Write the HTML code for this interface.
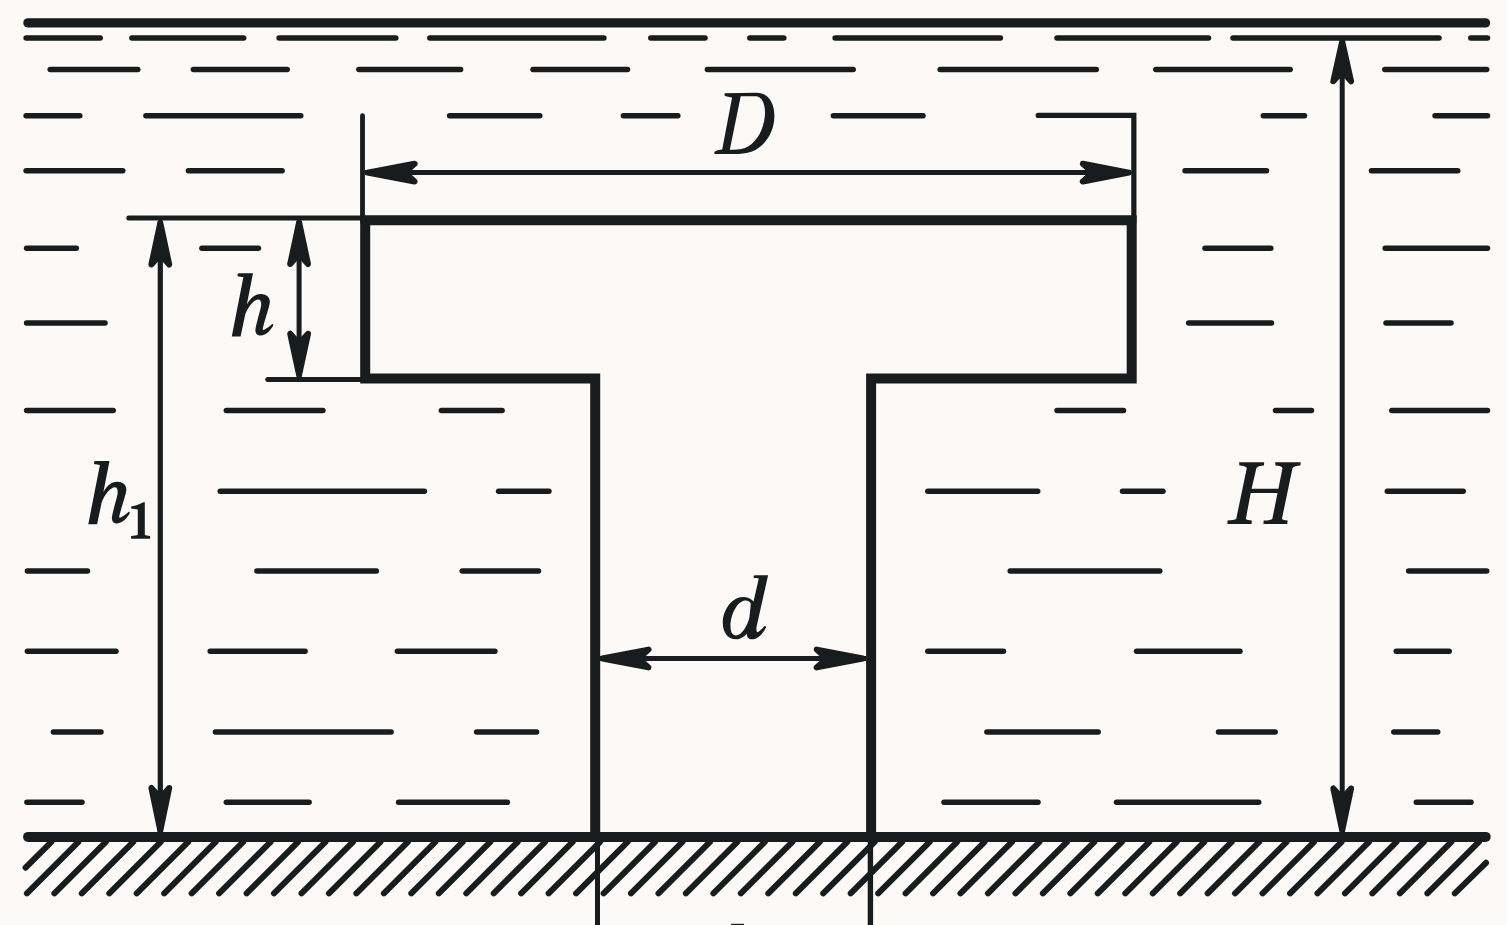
<!DOCTYPE html>
<html><head><meta charset="utf-8"><style>
html,body{margin:0;padding:0;background:#fdf9f7;}
body{width:1507px;height:925px;overflow:hidden;}
svg{display:block;}
text{font-family:"Liberation Serif",serif;fill:#171c1f;}
</style></head><body>
<svg width="1507" height="925" viewBox="0 0 1507 925">
<rect x="0" y="0" width="1507" height="925" fill="#fdf9f7"/>
<g stroke="#171c1f" fill="#171c1f">
<line x1="26.1" y1="38.1" x2="100.2" y2="38.1" stroke-width="5.5" stroke-linecap="round"/>
<line x1="131.9" y1="38.1" x2="243.7" y2="38.1" stroke-width="5.5" stroke-linecap="round"/>
<line x1="279.1" y1="38.1" x2="395.8" y2="38.1" stroke-width="5.5" stroke-linecap="round"/>
<line x1="429.8" y1="38.1" x2="603.9" y2="38.1" stroke-width="5.5" stroke-linecap="round"/>
<line x1="650.8" y1="38.1" x2="705.0" y2="38.1" stroke-width="5.5" stroke-linecap="round"/>
<line x1="749.8" y1="38.1" x2="783.8" y2="38.1" stroke-width="5.5" stroke-linecap="round"/>
<line x1="835.1" y1="38.1" x2="1000.4" y2="38.1" stroke-width="5.5" stroke-linecap="round"/>
<line x1="1057.0" y1="38.1" x2="1208.5" y2="38.1" stroke-width="5.5" stroke-linecap="round"/>
<line x1="1233.0" y1="38.1" x2="1439.0" y2="38.1" stroke-width="5.5" stroke-linecap="round"/>
<line x1="1470.8" y1="38.1" x2="1487.5" y2="38.1" stroke-width="5.5" stroke-linecap="round"/>
<line x1="50.2" y1="69.5" x2="137.8" y2="69.5" stroke-width="5.5" stroke-linecap="round"/>
<line x1="193.4" y1="69.5" x2="287.2" y2="69.5" stroke-width="5.5" stroke-linecap="round"/>
<line x1="358.9" y1="69.5" x2="460.6" y2="69.5" stroke-width="5.5" stroke-linecap="round"/>
<line x1="533.0" y1="69.5" x2="627.5" y2="69.5" stroke-width="5.5" stroke-linecap="round"/>
<line x1="707.4" y1="69.5" x2="853.2" y2="69.5" stroke-width="5.5" stroke-linecap="round"/>
<line x1="940.2" y1="69.5" x2="1096.3" y2="69.5" stroke-width="5.5" stroke-linecap="round"/>
<line x1="1155.8" y1="69.5" x2="1290.2" y2="69.5" stroke-width="5.5" stroke-linecap="round"/>
<line x1="1384.8" y1="69.5" x2="1486.7" y2="69.5" stroke-width="5.5" stroke-linecap="round"/>
<line x1="26.1" y1="115.7" x2="79.8" y2="115.7" stroke-width="5.5" stroke-linecap="round"/>
<line x1="145.9" y1="115.7" x2="300.8" y2="115.7" stroke-width="5.5" stroke-linecap="round"/>
<line x1="449.6" y1="115.7" x2="539.8" y2="115.7" stroke-width="5.5" stroke-linecap="round"/>
<line x1="623.4" y1="115.7" x2="677.8" y2="115.7" stroke-width="5.5" stroke-linecap="round"/>
<line x1="833.4" y1="115.7" x2="923.0" y2="115.7" stroke-width="5.5" stroke-linecap="round"/>
<line x1="1263.3" y1="115.7" x2="1304.5" y2="115.7" stroke-width="5.5" stroke-linecap="round"/>
<line x1="1435.0" y1="115.7" x2="1487.5" y2="115.7" stroke-width="5.5" stroke-linecap="round"/>
<line x1="26.1" y1="170.7" x2="122.8" y2="170.7" stroke-width="5.5" stroke-linecap="round"/>
<line x1="188.4" y1="170.7" x2="282.1" y2="170.7" stroke-width="5.5" stroke-linecap="round"/>
<line x1="1185.0" y1="170.7" x2="1266.5" y2="170.7" stroke-width="5.5" stroke-linecap="round"/>
<line x1="1371.5" y1="170.7" x2="1457.8" y2="170.7" stroke-width="5.5" stroke-linecap="round"/>
<line x1="26.6" y1="248.2" x2="76.3" y2="248.2" stroke-width="5.5" stroke-linecap="round"/>
<line x1="201.9" y1="248.2" x2="258.4" y2="248.2" stroke-width="5.5" stroke-linecap="round"/>
<line x1="1205.0" y1="248.2" x2="1270.8" y2="248.2" stroke-width="5.5" stroke-linecap="round"/>
<line x1="1385.2" y1="248.2" x2="1487.5" y2="248.2" stroke-width="5.5" stroke-linecap="round"/>
<line x1="26.6" y1="322.9" x2="105.0" y2="322.9" stroke-width="5.5" stroke-linecap="round"/>
<line x1="1188.7" y1="322.9" x2="1271.5" y2="322.9" stroke-width="5.5" stroke-linecap="round"/>
<line x1="1386.0" y1="322.9" x2="1451.0" y2="322.9" stroke-width="5.5" stroke-linecap="round"/>
<line x1="26.6" y1="410.5" x2="113.2" y2="410.5" stroke-width="5.5" stroke-linecap="round"/>
<line x1="226.3" y1="410.5" x2="322.9" y2="410.5" stroke-width="5.5" stroke-linecap="round"/>
<line x1="441.4" y1="410.5" x2="502.1" y2="410.5" stroke-width="5.5" stroke-linecap="round"/>
<line x1="1057.0" y1="410.5" x2="1123.5" y2="410.5" stroke-width="5.5" stroke-linecap="round"/>
<line x1="1275.5" y1="410.5" x2="1311.5" y2="410.5" stroke-width="5.5" stroke-linecap="round"/>
<line x1="1391.8" y1="410.5" x2="1487.5" y2="410.5" stroke-width="5.5" stroke-linecap="round"/>
<line x1="220.2" y1="491.2" x2="424.4" y2="491.2" stroke-width="5.5" stroke-linecap="round"/>
<line x1="498.6" y1="491.2" x2="548.9" y2="491.2" stroke-width="5.5" stroke-linecap="round"/>
<line x1="927.8" y1="491.2" x2="1037.7" y2="491.2" stroke-width="5.5" stroke-linecap="round"/>
<line x1="1122.5" y1="491.2" x2="1163.0" y2="491.2" stroke-width="5.5" stroke-linecap="round"/>
<line x1="1387.3" y1="491.2" x2="1463.2" y2="491.2" stroke-width="5.5" stroke-linecap="round"/>
<line x1="27.4" y1="571.0" x2="87.5" y2="571.0" stroke-width="5.5" stroke-linecap="round"/>
<line x1="256.9" y1="571.0" x2="376.4" y2="571.0" stroke-width="5.5" stroke-linecap="round"/>
<line x1="462.2" y1="571.0" x2="538.5" y2="571.0" stroke-width="5.5" stroke-linecap="round"/>
<line x1="1010.2" y1="571.0" x2="1159.8" y2="571.0" stroke-width="5.5" stroke-linecap="round"/>
<line x1="1408.7" y1="571.0" x2="1486.7" y2="571.0" stroke-width="5.5" stroke-linecap="round"/>
<line x1="27.4" y1="651.2" x2="116.0" y2="651.2" stroke-width="5.5" stroke-linecap="round"/>
<line x1="210.2" y1="651.2" x2="305.1" y2="651.2" stroke-width="5.5" stroke-linecap="round"/>
<line x1="397.4" y1="651.2" x2="494.9" y2="651.2" stroke-width="5.5" stroke-linecap="round"/>
<line x1="927.8" y1="651.2" x2="1003.5" y2="651.2" stroke-width="5.5" stroke-linecap="round"/>
<line x1="1136.5" y1="651.2" x2="1240.0" y2="651.2" stroke-width="5.5" stroke-linecap="round"/>
<line x1="1396.2" y1="651.2" x2="1449.2" y2="651.2" stroke-width="5.5" stroke-linecap="round"/>
<line x1="53.4" y1="732.0" x2="101.0" y2="732.0" stroke-width="5.5" stroke-linecap="round"/>
<line x1="215.4" y1="732.0" x2="391.1" y2="732.0" stroke-width="5.5" stroke-linecap="round"/>
<line x1="476.6" y1="732.0" x2="536.6" y2="732.0" stroke-width="5.5" stroke-linecap="round"/>
<line x1="986.9" y1="732.0" x2="1098.2" y2="732.0" stroke-width="5.5" stroke-linecap="round"/>
<line x1="1218.5" y1="732.0" x2="1275.2" y2="732.0" stroke-width="5.5" stroke-linecap="round"/>
<line x1="1393.8" y1="732.0" x2="1437.7" y2="732.0" stroke-width="5.5" stroke-linecap="round"/>
<line x1="26.9" y1="802.3" x2="82.0" y2="802.3" stroke-width="5.5" stroke-linecap="round"/>
<line x1="226.3" y1="802.3" x2="309.1" y2="802.3" stroke-width="5.5" stroke-linecap="round"/>
<line x1="398.6" y1="802.3" x2="507.4" y2="802.3" stroke-width="5.5" stroke-linecap="round"/>
<line x1="944.0" y1="802.3" x2="1038.0" y2="802.3" stroke-width="5.5" stroke-linecap="round"/>
<line x1="1116.5" y1="802.3" x2="1258.7" y2="802.3" stroke-width="5.5" stroke-linecap="round"/>
<line x1="1416.3" y1="802.3" x2="1471.0" y2="802.3" stroke-width="5.5" stroke-linecap="round"/>
<line x1="27.9" y1="22.9" x2="1485.5" y2="22.9" stroke-width="9.3" stroke-linecap="round"/>
<line x1="28.1" y1="836.9" x2="1485.7" y2="836.9" stroke-width="10" stroke-linecap="round"/>
<line x1="26.9" y1="893.3" x2="78.4" y2="841.8" stroke-width="6" stroke-linecap="round"/>
<line x1="54.4" y1="893.3" x2="105.9" y2="841.8" stroke-width="6" stroke-linecap="round"/>
<line x1="81.8" y1="893.3" x2="133.3" y2="841.8" stroke-width="6" stroke-linecap="round"/>
<line x1="109.3" y1="893.3" x2="160.8" y2="841.8" stroke-width="6" stroke-linecap="round"/>
<line x1="136.7" y1="893.3" x2="188.2" y2="841.8" stroke-width="6" stroke-linecap="round"/>
<line x1="164.2" y1="893.3" x2="215.7" y2="841.8" stroke-width="6" stroke-linecap="round"/>
<line x1="191.7" y1="893.3" x2="243.2" y2="841.8" stroke-width="6" stroke-linecap="round"/>
<line x1="219.1" y1="893.3" x2="270.6" y2="841.8" stroke-width="6" stroke-linecap="round"/>
<line x1="246.6" y1="893.3" x2="298.1" y2="841.8" stroke-width="6" stroke-linecap="round"/>
<line x1="274.0" y1="893.3" x2="325.5" y2="841.8" stroke-width="6" stroke-linecap="round"/>
<line x1="301.5" y1="893.3" x2="353.0" y2="841.8" stroke-width="6" stroke-linecap="round"/>
<line x1="329.0" y1="893.3" x2="380.5" y2="841.8" stroke-width="6" stroke-linecap="round"/>
<line x1="356.4" y1="893.3" x2="407.9" y2="841.8" stroke-width="6" stroke-linecap="round"/>
<line x1="383.9" y1="893.3" x2="435.4" y2="841.8" stroke-width="6" stroke-linecap="round"/>
<line x1="411.3" y1="893.3" x2="462.8" y2="841.8" stroke-width="6" stroke-linecap="round"/>
<line x1="438.8" y1="893.3" x2="490.3" y2="841.8" stroke-width="6" stroke-linecap="round"/>
<line x1="466.3" y1="893.3" x2="517.8" y2="841.8" stroke-width="6" stroke-linecap="round"/>
<line x1="493.7" y1="893.3" x2="545.2" y2="841.8" stroke-width="6" stroke-linecap="round"/>
<line x1="521.2" y1="893.3" x2="572.7" y2="841.8" stroke-width="6" stroke-linecap="round"/>
<line x1="548.6" y1="893.3" x2="600.1" y2="841.8" stroke-width="6" stroke-linecap="round"/>
<line x1="576.1" y1="893.3" x2="627.6" y2="841.8" stroke-width="6" stroke-linecap="round"/>
<line x1="603.6" y1="893.3" x2="655.1" y2="841.8" stroke-width="6" stroke-linecap="round"/>
<line x1="631.0" y1="893.3" x2="682.5" y2="841.8" stroke-width="6" stroke-linecap="round"/>
<line x1="658.5" y1="893.3" x2="710.0" y2="841.8" stroke-width="6" stroke-linecap="round"/>
<line x1="685.9" y1="893.3" x2="737.4" y2="841.8" stroke-width="6" stroke-linecap="round"/>
<line x1="713.4" y1="893.3" x2="764.9" y2="841.8" stroke-width="6" stroke-linecap="round"/>
<line x1="740.9" y1="893.3" x2="792.4" y2="841.8" stroke-width="6" stroke-linecap="round"/>
<line x1="768.3" y1="893.3" x2="819.8" y2="841.8" stroke-width="6" stroke-linecap="round"/>
<line x1="795.8" y1="893.3" x2="847.3" y2="841.8" stroke-width="6" stroke-linecap="round"/>
<line x1="823.2" y1="893.3" x2="874.7" y2="841.8" stroke-width="6" stroke-linecap="round"/>
<line x1="850.7" y1="893.3" x2="902.2" y2="841.8" stroke-width="6" stroke-linecap="round"/>
<line x1="878.2" y1="893.3" x2="929.7" y2="841.8" stroke-width="6" stroke-linecap="round"/>
<line x1="905.6" y1="893.3" x2="957.1" y2="841.8" stroke-width="6" stroke-linecap="round"/>
<line x1="933.1" y1="893.3" x2="984.6" y2="841.8" stroke-width="6" stroke-linecap="round"/>
<line x1="960.5" y1="893.3" x2="1012.0" y2="841.8" stroke-width="6" stroke-linecap="round"/>
<line x1="988.0" y1="893.3" x2="1039.5" y2="841.8" stroke-width="6" stroke-linecap="round"/>
<line x1="1015.5" y1="893.3" x2="1067.0" y2="841.8" stroke-width="6" stroke-linecap="round"/>
<line x1="1042.9" y1="893.3" x2="1094.4" y2="841.8" stroke-width="6" stroke-linecap="round"/>
<line x1="1070.4" y1="893.3" x2="1121.9" y2="841.8" stroke-width="6" stroke-linecap="round"/>
<line x1="1097.8" y1="893.3" x2="1149.3" y2="841.8" stroke-width="6" stroke-linecap="round"/>
<line x1="1125.3" y1="893.3" x2="1176.8" y2="841.8" stroke-width="6" stroke-linecap="round"/>
<line x1="1152.8" y1="893.3" x2="1204.3" y2="841.8" stroke-width="6" stroke-linecap="round"/>
<line x1="1180.2" y1="893.3" x2="1231.7" y2="841.8" stroke-width="6" stroke-linecap="round"/>
<line x1="1207.7" y1="893.3" x2="1259.2" y2="841.8" stroke-width="6" stroke-linecap="round"/>
<line x1="1235.1" y1="893.3" x2="1286.6" y2="841.8" stroke-width="6" stroke-linecap="round"/>
<line x1="1262.6" y1="893.3" x2="1314.1" y2="841.8" stroke-width="6" stroke-linecap="round"/>
<line x1="1290.1" y1="893.3" x2="1341.6" y2="841.8" stroke-width="6" stroke-linecap="round"/>
<line x1="1317.5" y1="893.3" x2="1369.0" y2="841.8" stroke-width="6" stroke-linecap="round"/>
<line x1="1345.0" y1="893.3" x2="1396.5" y2="841.8" stroke-width="6" stroke-linecap="round"/>
<line x1="1372.4" y1="893.3" x2="1423.9" y2="841.8" stroke-width="6" stroke-linecap="round"/>
<line x1="1399.9" y1="893.3" x2="1451.4" y2="841.8" stroke-width="6" stroke-linecap="round"/>
<line x1="1427.4" y1="893.3" x2="1478.9" y2="841.8" stroke-width="6" stroke-linecap="round"/>
<line x1="25.6" y1="867.7" x2="51.4" y2="841.9" stroke-width="6" stroke-linecap="round"/>
<line x1="1454.8" y1="893.3" x2="1486.0" y2="862.8" stroke-width="6" stroke-linecap="round"/>
<line x1="597.5" y1="837.0" x2="597.5" y2="925.0" stroke-width="5" stroke-linecap="butt"/>
<line x1="870.4" y1="837.0" x2="870.4" y2="925.0" stroke-width="5.4" stroke-linecap="butt"/>
<path d="M595.2 837 V378.4 H365.2 V220.3 H1131.7 V378.4 H871.1 V837" fill="none" stroke-width="10" stroke-linejoin="miter"/>
<line x1="362.5" y1="115.7" x2="362.5" y2="222.0" stroke-width="4.8" stroke-linecap="round"/>
<path d="M1038.2 115.4 H1133.85 V222" fill="none" stroke-width="5.2" stroke-linecap="round" stroke-linejoin="miter"/>
<line x1="128.8" y1="217.9" x2="364.0" y2="217.9" stroke-width="5" stroke-linecap="round"/>
<line x1="267.8" y1="379.4" x2="364.0" y2="379.4" stroke-width="5" stroke-linecap="round"/>
<line x1="365.0" y1="172.6" x2="1131.0" y2="172.6" stroke-width="5" stroke-linecap="butt"/>
<line x1="299.1" y1="221.0" x2="299.1" y2="377.0" stroke-width="5" stroke-linecap="butt"/>
<line x1="160.3" y1="221.0" x2="160.3" y2="833.0" stroke-width="5.2" stroke-linecap="butt"/>
<line x1="1342.2" y1="40.0" x2="1342.2" y2="833.0" stroke-width="5" stroke-linecap="butt"/>
<line x1="600.0" y1="658.5" x2="866.0" y2="658.5" stroke-width="4.8" stroke-linecap="butt"/>
<polygon points="367.4,172.6 414.6,181.5 404.6,172.6 414.6,163.7" stroke-width="6" stroke-linejoin="round"/>
<polygon points="1128.9,172.6 1082.8,163.7 1092.8,172.6 1082.8,181.5" stroke-width="6" stroke-linejoin="round"/>
<polygon points="299.1,222.4 290.2,264.0 299.1,254.0 308.0,264.0" stroke-width="6" stroke-linejoin="round"/>
<polygon points="299.1,374.8 308.0,333.8 299.1,343.8 290.2,333.8" stroke-width="6" stroke-linejoin="round"/>
<polygon points="160.3,222.8 151.4,264.5 160.3,254.5 169.2,264.5" stroke-width="6" stroke-linejoin="round"/>
<polygon points="160.3,830.6 169.2,787.9 160.3,797.9 151.4,787.9" stroke-width="6" stroke-linejoin="round"/>
<polygon points="1342.2,41.3 1333.3,81.3 1342.2,71.3 1351.1,81.3" stroke-width="6" stroke-linejoin="round"/>
<polygon points="1342.2,830.5 1351.1,788.4 1342.2,798.4 1333.3,788.4" stroke-width="6" stroke-linejoin="round"/>
<polygon points="602.4,658.5 648.5,667.4 638.5,658.5 648.5,649.6" stroke-width="6" stroke-linejoin="round"/>
<polygon points="862.8,658.5 816.7,649.6 826.7,658.5 816.7,667.4" stroke-width="6" stroke-linejoin="round"/>
<rect x="731" y="923.8" width="13" height="1.2" stroke="none"/>
</g>

<g fill="#171c1f" fill-rule="evenodd" stroke="none">
<path d="M724.9 93.2 L757 92.7 C768 93 774.5 103 774.4 116 C774.3 131 766 146 752 151.5 C746 153.5 740 154 734 154 L715.5 154 C714 154 713.8 152.5 715 151.5 C716.5 150.3 719 149.8 722.2 149.4 L732.1 97.6 C729.5 97 727 96.5 725.5 96 C724.3 95.5 724.2 94 724.9 93.2 Z M740.7 96.2 L756 96.2 C762 96.5 765.2 104 765 113 C764.7 128 757 143 745 148 C740 149.6 735 149.8 729.8 149.8 Z"/>
<path d="M238.8 273.3 L253.0 273.2 L246.9 304.2 C250.5 298 255 294 260.5 294 C266.5 294 270.3 297.5 269.8 302.5 C269.3 307 265.5 318 263.5 325.5 C262.8 328 262.6 329.5 263 330 C265.5 329.5 269.5 326.5 271.8 324.2 C272.8 323.6 273.6 324.8 273.1 325.8 C270.5 330 266.5 335.6 260.5 335.6 C256.5 335.6 254.8 332.5 255.6 328.5 C256.5 323 259.5 313 260.8 307.5 C261.8 303 261 299.5 258.2 299.5 C254.5 299.5 248.5 306 245.2 314.5 L240.6 336.4 L231.8 336.4 L243.4 277.1 C241.5 276.8 239.5 276.7 238.2 276.4 C237.0 276 237.3 273.6 238.8 273.3 Z"/>
<path transform="translate(-143.5 187.8)" d="M238.8 273.3 L253.0 273.2 L246.9 304.2 C250.5 298 255 294 260.5 294 C266.5 294 270.3 297.5 269.8 302.5 C269.3 307 265.5 318 263.5 325.5 C262.8 328 262.6 329.5 263 330 C265.5 329.5 269.5 326.5 271.8 324.2 C272.8 323.6 273.6 324.8 273.1 325.8 C270.5 330 266.5 335.6 260.5 335.6 C256.5 335.6 254.8 332.5 255.6 328.5 C256.5 323 259.5 313 260.8 307.5 C261.8 303 261 299.5 258.2 299.5 C254.5 299.5 248.5 306 245.2 314.5 L240.6 336.4 L231.8 336.4 L243.4 277.1 C241.5 276.8 239.5 276.7 238.2 276.4 C237.0 276 237.3 273.6 238.8 273.3 Z"/>
<path d="M131.1 506.5 C136 505.5 140 504 143.5 502.2 L144.8 502.2 L144.8 534.8 C145.5 535.6 147.5 535.8 150.1 535.9 L150.1 538.7 L131.1 538.7 L131.1 535.9 C134 535.8 136.8 535.6 137.8 534.8 L137.8 509.5 C136 509.2 133.5 509 131.1 508.6 Z"/>
<path d="M1239.1 462.3 H1264.2 L1263.9 465.4 Q1258.3 465.8 1256.4 468 L1251.6 488.7 H1278.4 L1282.5 468 Q1281.3 465.8 1275.5 465.4 L1275.1 462.3 H1300.7 L1300.4 465.4 Q1294.5 465.8 1292.5 468 L1281.9 519 Q1283.2 520.2 1287.6 520.6 L1287.3 523.9 H1263.4 L1263.7 520.6 Q1270 520.2 1272.3 519 L1277.5 493.1 H1250.7 L1245.8 519 Q1247.1 520.2 1251.8 520.6 L1251.6 523.9 H1227.3 L1227.6 520.6 Q1233.8 520.2 1236.2 519 L1246.8 468 Q1245.5 465.8 1239.4 465.4 Z"/>
<path d="M754.6 575.2 L768.1 575.2 L756.6 626.5 C756.2 629 756.5 631.5 757.3 632.3 C759.5 631.5 762 629 764.3 626.2 C765 625.6 766.5 626.7 765.9 627.8 C763 633 758.5 639.3 752 639.3 C748 639.3 746.6 636.5 747 633.5 C745 636 741 639.3 736 639.3 C727.5 639.3 722.8 632 722.8 623 C722.8 610 732 597.1 743 597.1 C747.5 597.1 751.5 599 753.5 601.5 L758.8 578.6 C757 578.4 755 578.3 754.2 578.1 C753.3 577.6 753.5 575.6 754.6 575.2 Z M750.8 603.8 C750 601.5 747.5 600.4 745 600.6 C737 601.5 730.5 615 730.5 626 C730.5 632 732.5 635.5 736 635.5 C741.5 635.5 747.5 626 749.5 617 Z"/>
</g>

</svg>
</body></html>
